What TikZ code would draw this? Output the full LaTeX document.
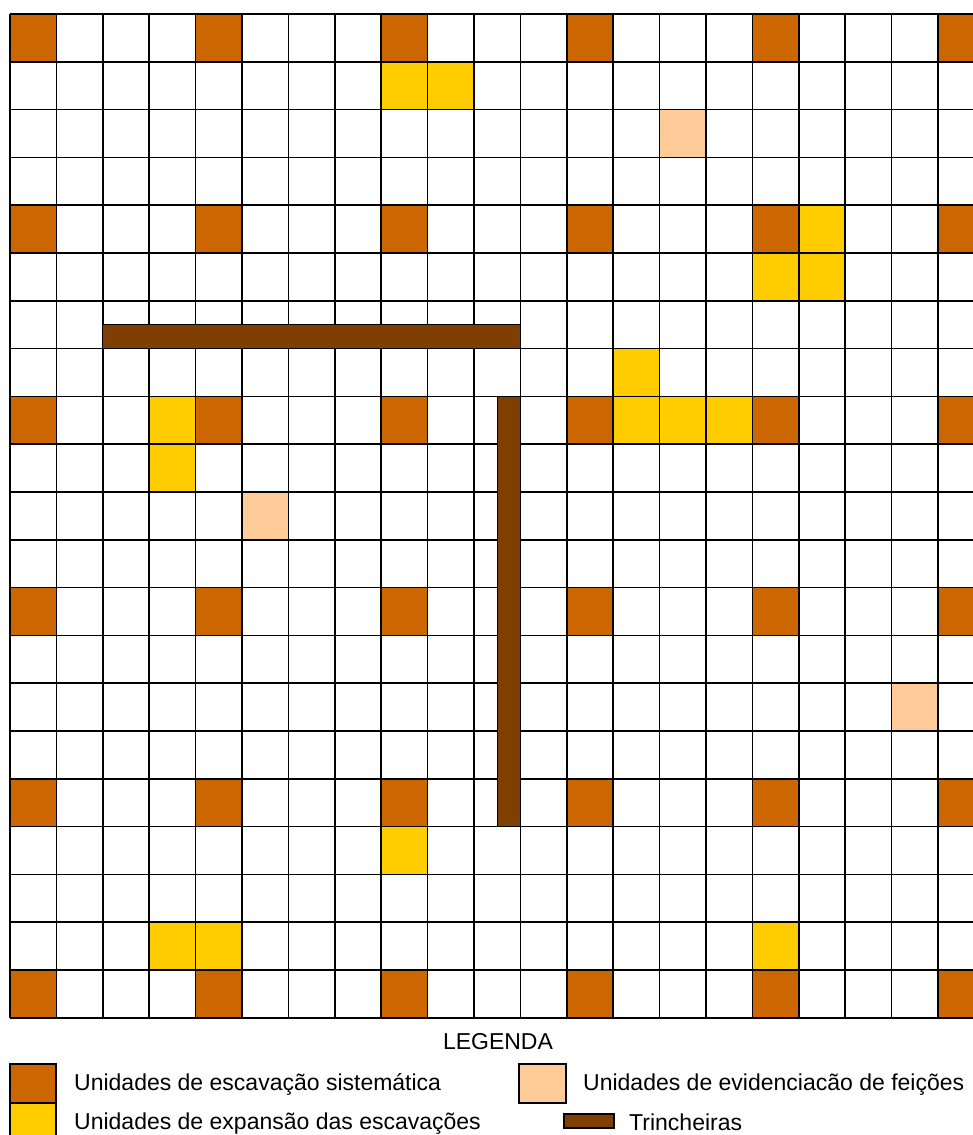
\documentclass[tikz,border=0pt]{standalone}
\usepackage{fontspec}
\setmainfont{Liberation Sans}

\definecolor{sistorange}{HTML}{CC6600}
\definecolor{expyellow}{HTML}{FFCC00}
\definecolor{featpeach}{HTML}{FFCC99}
\definecolor{trenchbrown}{HTML}{7F3F00}

\tikzset{
  gridline/.style={black,line width=1.5pt},
  sistcell/.style={fill=sistorange},
  expcell/.style={fill=expyellow},
  featcell/.style={fill=featpeach},
  trench/.style={fill=trenchbrown,draw=black,line width=1pt},
  legbox/.style={draw=black,line width=1.5pt,inner sep=0pt,outer sep=0pt,minimum width=46pt,minimum height=39pt},
  legtext/.style={font=\fontsize{23}{27}\selectfont,inner sep=0pt,anchor=base west},
}

\begin{document}
\begin{tikzpicture}[x=46.4pt,y=-47.8pt]
\useasboundingbox (-0.2155,-0.2929) rectangle (20.754,23.452);
\clip (-0.2155,-0.2929) rectangle (20.754,23.452);

% the systematic units
\foreach \c in {0,4,...,20}
  \foreach \r in {0,4,...,20}
    \fill [sistcell] (\c,\r) rectangle ++(1,1);

% the expansion units
\foreach \c/\r in {8/1,9/1,17/4,16/5,17/5,13/7,3/8,13/8,14/8,15/8,3/9,8/17,3/19,4/19,16/19}
  \fill [expcell] (\c,\r) rectangle ++(1,1);

% the feature units
\foreach \c/\r in {14/2,5/10,19/14}
  \fill [featcell] (\c,\r) rectangle ++(1,1);

% the grid
\foreach \i in {0,...,21}
  \draw [gridline] (\i,0) -- (\i,21);
\foreach \j in {0,...,21}
  \draw [gridline] (0,\j) -- (21,\j);

% the trenches
\draw [trench] (2,6.5) rectangle (11,7);
\draw [trench] (10.5,8) rectangle (11,17);

% the legend
\node [font=\fontsize{23}{27}\selectfont,inner sep=0pt] (legtitle) at (10.517,21.506) {LEGENDA};

\node [legbox,fill=sistorange] (boxsist) at (0.5,22.374) {};
\node [legbox,fill=expyellow] (boxexp) at (0.5,23.191) {};
\node [legbox,fill=featpeach,minimum width=47pt] (boxfeat) at (11.476,22.374) {};
\node [legbox,fill=trenchbrown,minimum width=50pt,minimum height=14pt] (boxtrench) at (12.478,23.159) {};

\node [legtext] (txtsist) at (1.379,22.53) {Unidades de escavação sistemática};
\node [legtext] (txtexp) at (1.379,23.347) {Unidades de expansão das escavações};
\node [legtext] (txtfeat) at (12.349,22.53) {Unidades de evidenciacão de feições};
\node [legtext] (txttrench) at (13.341,23.36) {Trincheiras};

\end{tikzpicture}
\end{document}
